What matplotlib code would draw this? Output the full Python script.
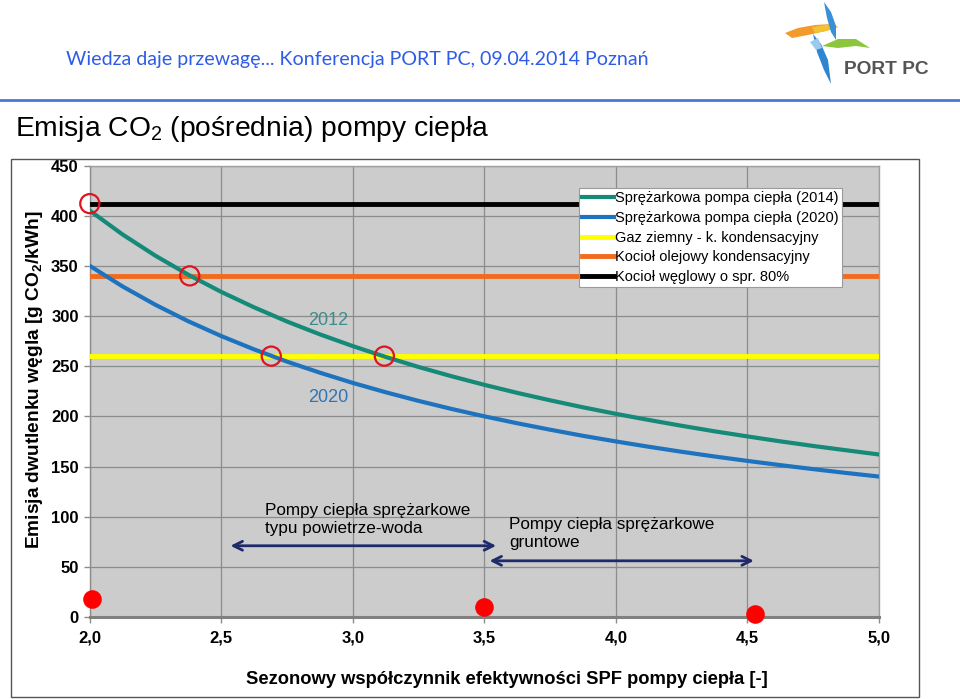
import matplotlib
matplotlib.use('Agg')
import matplotlib.pyplot as plt
from matplotlib.patches import Polygon, Rectangle
from matplotlib.lines import Line2D

plt.rcParams['font.family'] = ['Liberation Sans', 'DejaVu Sans']
plt.rcParams['mathtext.fontset'] = 'custom'
plt.rcParams['mathtext.rm'] = 'Liberation Sans'
plt.rcParams['mathtext.it'] = 'Liberation Sans:italic'
plt.rcParams['mathtext.bf'] = 'Liberation Sans:bold'

# ---------------- data ----------------
spf = [2.0, 2.125, 2.25, 2.375, 2.5, 2.625, 2.75, 2.875, 3.0, 3.125, 3.25, 3.375,
       3.5, 3.625, 3.75, 3.875, 4.0, 4.125, 4.25, 4.375, 4.5, 4.625, 4.75, 4.875, 5.0]
hp_2014 = [405.0, 381.2, 360.0, 341.1, 324.0, 308.6, 294.5, 281.7, 270.0, 259.2, 249.2, 240.0,
           231.4, 223.4, 216.0, 209.0, 202.5, 196.4, 190.6, 185.1, 180.0, 175.1, 170.5, 166.2, 162.0]
hp_2020 = [350.0, 329.4, 311.1, 294.7, 280.0, 266.7, 254.5, 243.5, 233.3, 224.0, 215.4, 207.4,
           200.0, 193.1, 186.7, 180.6, 175.0, 169.7, 164.7, 160.0, 155.6, 151.4, 147.4, 143.6, 140.0]
gas = 260
oil = 340
coal = 412
series_labels = ['Sprężarkowa pompa ciepła (2014)',
                 'Sprężarkowa pompa ciepła (2020)',
                 'Gaz ziemny - k. kondensacyjny',
                 'Kocioł olejowy kondensacyjny',
                 'Kocioł węglowy o spr. 80%']
series_colors = ['#168a78', '#1e73be', '#ffff00', '#f26b1d', '#000000']
circle_x = [2.0, 2.38, 2.69, 3.12]
circle_y = [412, 340, 260, 260]
dot_x = [2.01, 3.5, 4.53]
dot_y = [18, 10, 3]
xticks = [2.0, 2.5, 3.0, 3.5, 4.0, 4.5, 5.0]
xtick_labels = ['2,0', '2,5', '3,0', '3,5', '4,0', '4,5', '5,0']
yticks = [0, 50, 100, 150, 200, 250, 300, 350, 400, 450]
arrow1 = (2.535, 3.545, 71)
arrow2 = (3.52, 4.525, 56)

W, H = 960, 699
fig = plt.figure(figsize=(9.6, 6.99), dpi=100)


def fx(x):
    return x / W


def fy(y):
    return 1 - y / H


# ---------------- header ----------------
fig.text(fx(66), fy(60), 'Wiedza daje przewagę... Konferencja PORT PC, 09.04.2014 Poznań',
         color='#2e5ce6', fontsize=14.1, family='Lato', va='center', ha='left')
fig.add_artist(Line2D([0, 1], [fy(100), fy(100)], transform=fig.transFigure,
                      color='#4a78d2', lw=2))

# logo (approximate shapes)
logo_shapes = [
    ([(785, 33), (798, 28), (815, 25), (832, 24), (838, 27), (826, 31), (808, 35), (792, 38)], '#f39a2b'),
    ([(812, 27), (832, 24), (838, 27), (826, 31), (815, 33)], '#f2c230'),
    ([(824, 2), (831, 12), (836, 26), (836, 40), (831, 32), (827, 18)], '#3a8fd6'),
    ([(822, 46), (838, 39), (856, 39), (870, 48), (856, 46), (838, 48)], '#8cc63f'),
    ([(813, 34), (821, 44), (828, 60), (831, 84), (824, 70), (817, 52)], '#2e86d1'),
    ([(810, 42), (818, 38), (822, 48), (816, 50)], '#9cc9ec'),
]
for pts, col in logo_shapes:
    fig.add_artist(Polygon([(fx(a), fy(b)) for a, b in pts], closed=True,
                           transform=fig.transFigure, color=col, lw=0))
fig.text(fx(844), fy(69), 'PORT PC', color='#555555', fontsize=13.8,
         weight='bold', va='center', ha='left')

# title
fig.text(fx(15), fy(129), 'Emisja CO$_2$ (pośrednia) pompy ciepła',
         fontsize=20.3, va='center', ha='left', color='#000000')

# chart border
fig.add_artist(Rectangle((fx(11), fy(697)), (919 - 11) / W, (697 - 159) / H,
                         transform=fig.transFigure, fill=False, ec='#555555', lw=1))

# ---------------- axes ----------------
ax = fig.add_axes([fx(89.8), fy(617), (878.8 - 89.8) / W, (617 - 165.5) / H])
ax.set_facecolor('#cccccc')
ax.set_xlim(2.0, 5.0)
ax.set_ylim(0, 450)
ax.set_xticks(xticks)
ax.set_xticklabels(xtick_labels)
ax.set_yticks(yticks)
ax.grid(True, color='#8c8c8c', lw=0.9)
ax.set_axisbelow(True)
for s in ['top', 'right']:
    ax.spines[s].set_color('#a0a0a0')
    ax.spines[s].set_linewidth(1)
ax.spines['left'].set_color('#8c8c8c')
ax.spines['left'].set_linewidth(1)
ax.spines['bottom'].set_color('#808080')
ax.spines['bottom'].set_linewidth(2.2)
ax.tick_params(axis='both', length=4, color='#8c8c8c', width=1,
               labelsize=12, pad=4)
ax.tick_params(axis='x', pad=6)
for lab in ax.get_xticklabels() + ax.get_yticklabels():
    lab.set_fontweight('bold')

xr = [spf[0], spf[-1]]
ax.plot(spf, hp_2014, color=series_colors[0], lw=3, label=series_labels[0], zorder=4)
ax.plot(spf, hp_2020, color=series_colors[1], lw=3, label=series_labels[1], zorder=4)
ax.plot(xr, [gas, gas], color=series_colors[2], lw=3.5, label=series_labels[2], zorder=3)
ax.plot(xr, [oil, oil], color=series_colors[3], lw=3.5, label=series_labels[3], zorder=3)
ax.plot(xr, [coal, coal], color=series_colors[4], lw=3.5, label=series_labels[4], zorder=3)

ax.scatter(circle_x, circle_y, s=190, facecolors='none', edgecolors='#e0141e',
           linewidths=1.6, zorder=6, clip_on=False)
ax.scatter(dot_x, dot_y, s=180, color='#ff0000', zorder=6, clip_on=False, lw=0)

for x0, x1, y in (arrow1, arrow2):
    ax.annotate('', xy=(x1, y), xytext=(x0, y),
                arrowprops=dict(arrowstyle='<->', color='#1f2a6b', lw=2,
                                mutation_scale=16, shrinkA=0, shrinkB=0))

ax.text(2.666, 114, 'Pompy ciepła sprężarkowe\ntypu powietrze-woda', fontsize=12.3,
        va='top', ha='left', linespacing=1.25)
ax.text(3.594, 100, 'Pompy ciepła sprężarkowe\ngruntowe', fontsize=12.3,
        va='top', ha='left', linespacing=1.25)
ax.text(2.906, 296, '2012', color='#3d8c8c', fontsize=13, ha='center', va='center')
ax.text(2.906, 219, '2020', color='#2f75b5', fontsize=13, ha='center', va='center')

leg = ax.legend(loc='upper right', bbox_to_anchor=(0.953, 0.950), frameon=True,
                fancybox=False, edgecolor='#9a9a9a', framealpha=1, fontsize=10.5,
                borderpad=0.2, labelspacing=0.4, handlelength=2.2,
                handletextpad=0.1, borderaxespad=0)
leg.get_frame().set_linewidth(0.8)

fig.text(fx(35), fy(380), r'Emisja dwutlenku węgla [g CO$_{\mathbf{2}}$/kWh]',
         rotation=90, fontsize=13.8, weight='bold', va='center', ha='center')
fig.text(fx(507), fy(680), 'Sezonowy współczynnik efektywności SPF pompy ciepła [-]',
         fontsize=13.2, weight='bold', va='center', ha='center')

fig.savefig('out.png', dpi=100)
